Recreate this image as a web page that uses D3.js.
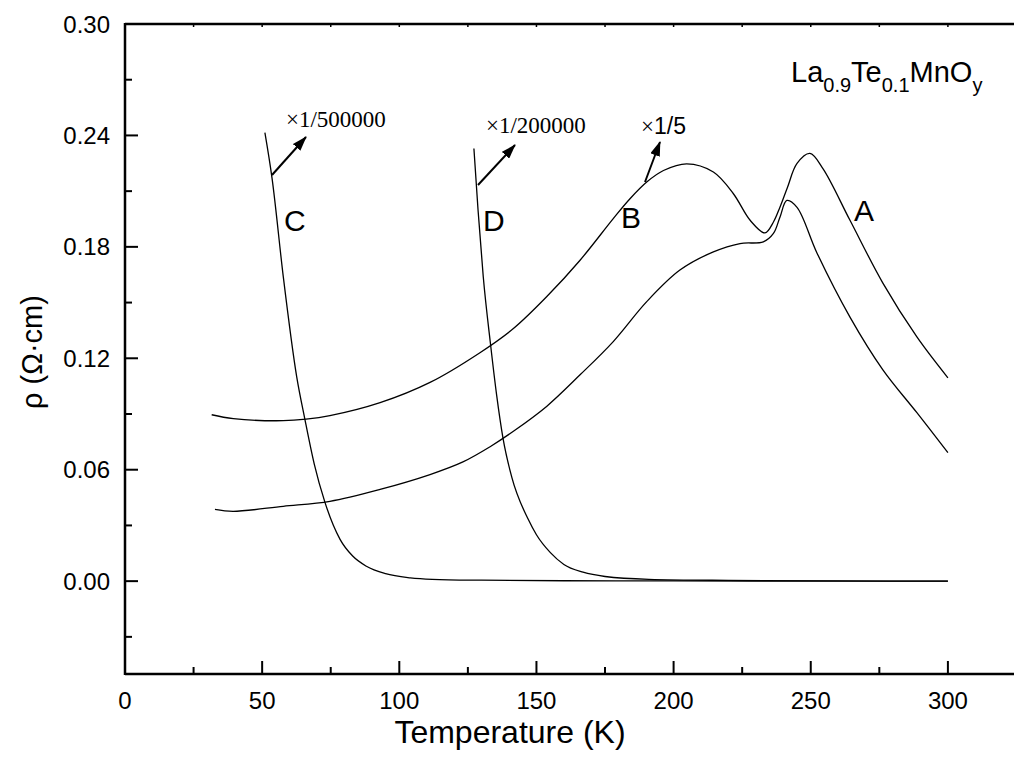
<!DOCTYPE html>
<html>
<head>
<meta charset="utf-8">
<script src="https://cdn.jsdelivr.net/npm/d3@7"></script>
<style>
  body { margin: 0; background: #fff; }
  text { font-family: "Liberation Sans", Arial, sans-serif; fill: #000; }
</style>
</head>
<body>
<div class="canvas"></div>
<script>
// temperature (K) and resistivity (Ohm cm)
const tempUpper = [31.6, 39.5, 57.7, 66, 74.7, 93, 111.2, 129.4, 141.6, 153.7, 165.9, 178, 184.1, 190.2, 196.3, 204.8, 214.5, 221.8, 227.9, 233.3, 236.4, 238.8, 241.5, 245, 249.7, 254.5, 264.3, 276.3, 288.7, 300]
const rhoUpper  = [0.0896, 0.0875, 0.0864, 0.0872, 0.0891, 0.0961, 0.1070, 0.1230, 0.1360, 0.1531, 0.1728, 0.1952, 0.2059, 0.2149, 0.2211, 0.2247, 0.2203, 0.2086, 0.1943, 0.1875, 0.1934, 0.2015, 0.2120, 0.2249, 0.2303, 0.2220, 0.1943, 0.1605, 0.1315, 0.1095]

const tempLower = [32.8, 39.4, 57.7, 74.7, 93, 111.2, 123.2, 133.1, 141.6, 153.7, 165.9, 178, 190.2, 202.3, 214.5, 224.2, 232.7, 236.4, 238.8, 241.3, 245, 252.3, 264.3, 276.3, 288.7, 300]
const rhoLower  = [0.0386, 0.0376, 0.0403, 0.0430, 0.0494, 0.0574, 0.0642, 0.0724, 0.0807, 0.0941, 0.1111, 0.1290, 0.1505, 0.1675, 0.1773, 0.1818, 0.1827, 0.1872, 0.1961, 0.2050, 0.2013, 0.1766, 0.1422, 0.1138, 0.0907, 0.0692]

const tempC = [51, 53.6, 57.7, 62.6, 65.6, 69, 72.9, 78.4, 83, 88, 95, 104, 112, 130, 160, 200, 250, 300]
const rhoC  = [0.2415, 0.217, 0.164, 0.110, 0.087, 0.063, 0.0424, 0.0225, 0.0135, 0.008, 0.004, 0.0018, 0.001, 0.0005, 0.0002, 0.0001, 0, 0]

const tempD = [127.2, 128.7, 130.6, 133.3, 135.5, 137.8, 141, 147, 150, 155, 160, 167, 175, 191, 220, 260, 300]
const rhoD  = [0.233, 0.200, 0.164, 0.127, 0.100, 0.077, 0.056, 0.0333, 0.025, 0.0155, 0.009, 0.0048, 0.0025, 0.001, 0.0004, 0.0001, 0]

const xTicks = [0, 50, 100, 150, 200, 250, 300]
const yTicks = [0.00, 0.06, 0.12, 0.18, 0.24, 0.30]

const width = 1014
const height = 763
const margin = { left: 125, top: 24, bottom: 89 }

svg = d3.select(".canvas").append("svg")
    .attr("width", width)
    .attr("height", height)

const x = d3.scaleLinear().domain([0, 325]).range([margin.left, margin.left + 325 * 2.743])
const y = d3.scaleLinear().domain([-0.05, 0.30]).range([height - margin.bottom, margin.top])

const x0 = x(0), x1 = x(325), yTop = y(0.30), yBot = y(-0.05)

// frame: left, bottom, top (right side runs off the page)
const frame = svg.append("g").attr("stroke", "#000").attr("stroke-width", 2.5).attr("fill", "none")
frame.append("line").attr("x1", x0).attr("x2", x0).attr("y1", yTop - 1).attr("y2", yBot + 1)
frame.append("line").attr("x1", x0).attr("x2", x1).attr("y1", yBot).attr("y2", yBot)
frame.append("line").attr("x1", x0).attr("x2", x1).attr("y1", yTop).attr("y2", yTop)

// bottom ticks (inward)
const xMinor = d3.range(25, 325, 50)
svg.append("g").selectAll("line").data(xTicks).enter().append("line")
    .attr("x1", d => x(d)).attr("x2", d => x(d))
    .attr("y1", yBot).attr("y2", yBot - 13)
    .attr("stroke", "#000").attr("stroke-width", 2)
svg.append("g").selectAll("line").data(xMinor).enter().append("line")
    .attr("x1", d => x(d)).attr("x2", d => x(d))
    .attr("y1", yBot).attr("y2", yBot - 7)
    .attr("stroke", "#000").attr("stroke-width", 2)
// top ticks, tiny
svg.append("g").selectAll("line").data(d3.range(25, 325, 25)).enter().append("line")
    .attr("x1", d => x(d)).attr("x2", d => x(d))
    .attr("y1", yTop).attr("y2", yTop + 3)
    .attr("stroke", "#000").attr("stroke-width", 1.5)

svg.append("g").selectAll("text").data(xTicks).enter().append("text")
    .attr("x", d => x(d)).attr("y", yBot + 35)
    .attr("text-anchor", "middle")
    .style("font-size", "24px")
    .text(d => d)

// left ticks (inward)
const yMinor = [-0.03, 0.03, 0.09, 0.15, 0.21, 0.27]
svg.append("g").selectAll("line").data(yTicks).enter().append("line")
    .attr("x1", x0).attr("x2", x0 + 13)
    .attr("y1", d => y(d)).attr("y2", d => y(d))
    .attr("stroke", "#000").attr("stroke-width", 2)
svg.append("g").selectAll("line").data(yMinor).enter().append("line")
    .attr("x1", x0).attr("x2", x0 + 7)
    .attr("y1", d => y(d)).attr("y2", d => y(d))
    .attr("stroke", "#000").attr("stroke-width", 2)

svg.append("g").selectAll("text").data(yTicks).enter().append("text")
    .attr("x", x0 - 15).attr("y", d => y(d) + 8.5)
    .attr("text-anchor", "end")
    .style("font-size", "24px")
    .text(d => d3.format(".2f")(d))

// axis titles
svg.append("text")
    .attr("x", 510).attr("y", 743)
    .attr("text-anchor", "middle")
    .style("font-size", "32px")
    .text("Temperature (K)")

svg.append("text")
    .attr("transform", "translate(42,352) rotate(-90)")
    .attr("text-anchor", "middle")
    .style("font-size", "29px")
    .text("ρ (Ω·cm)")

// curves: smooth ones through catmull-rom, steep drops kept monotone
const smooth = d3.line().x(d => x(d[0])).y(d => y(d[1])).curve(d3.curveCatmullRom)
const steep = d3.line().x(d => x(d[0])).y(d => y(d[1])).curve(d3.curveMonotoneX)

const curves = [
    { t: tempUpper, r: rhoUpper, gen: smooth },
    { t: tempLower, r: rhoLower, gen: smooth },
    { t: tempC, r: rhoC, gen: steep },
    { t: tempD, r: rhoD, gen: steep }
]

svg.append("g").selectAll("path").data(curves).enter().append("path")
    .attr("d", c => c.gen(d3.zip(c.t, c.r)))
    .attr("fill", "none")
    .attr("stroke", "#000")
    .attr("stroke-width", 1.3)

// arrows
svg.append("defs").append("marker")
    .attr("id", "head")
    .attr("viewBox", "0 0 15 10")
    .attr("markerUnits", "userSpaceOnUse")
    .attr("refX", 14).attr("refY", 5)
    .attr("markerWidth", 15).attr("markerHeight", 10)
    .attr("orient", "auto")
    .append("path").attr("d", "M0,0 L15,5 L0,10 z").attr("fill", "#000")

const arrows = [
    [272, 175, 306, 137],
    [478, 185, 515, 145],
    [645, 182, 660, 142]
]
svg.append("g").selectAll("line").data(arrows).enter().append("line")
    .attr("x1", d => d[0]).attr("y1", d => d[1])
    .attr("x2", d => d[2]).attr("y2", d => d[3])
    .attr("stroke", "#000").attr("stroke-width", 2)
    .attr("marker-end", "url(#head)")

// scale notes
svg.append("text").attr("x", 286).attr("y", 127)
    .style("font-family", "'Liberation Serif', 'Times New Roman', serif").style("font-size", "23px")
    .text("×1/500000")
svg.append("text").attr("x", 486).attr("y", 133)
    .style("font-family", "'Liberation Serif', 'Times New Roman', serif").style("font-size", "23px")
    .text("×1/200000")
const t5 = svg.append("text").attr("x", 641).attr("y", 134).style("font-size", "23px")
t5.append("tspan").style("font-family", "'Liberation Serif', serif").text("×")
t5.append("tspan").text("1/5")

// curve letters
const letters = [["C", 284, 231], ["D", 483, 231], ["B", 621, 228], ["A", 854, 221]]
svg.append("g").selectAll("text").data(letters).enter().append("text")
    .attr("x", d => d[1]).attr("y", d => d[2])
    .style("font-size", "30px")
    .text(d => d[0])

// sample name
const nm = svg.append("text").attr("x", 791).attr("y", 82).style("font-size", "29px")
nm.append("tspan").text("La")
nm.append("tspan").attr("dy", 10).style("font-size", "20px").text("0.9")
nm.append("tspan").attr("dy", -10).text("Te")
nm.append("tspan").attr("dy", 10).style("font-size", "20px").text("0.1")
nm.append("tspan").attr("dy", -10).text("MnO")
nm.append("tspan").attr("dy", 10).style("font-size", "20px").text("y")
</script>
</body>
</html>
